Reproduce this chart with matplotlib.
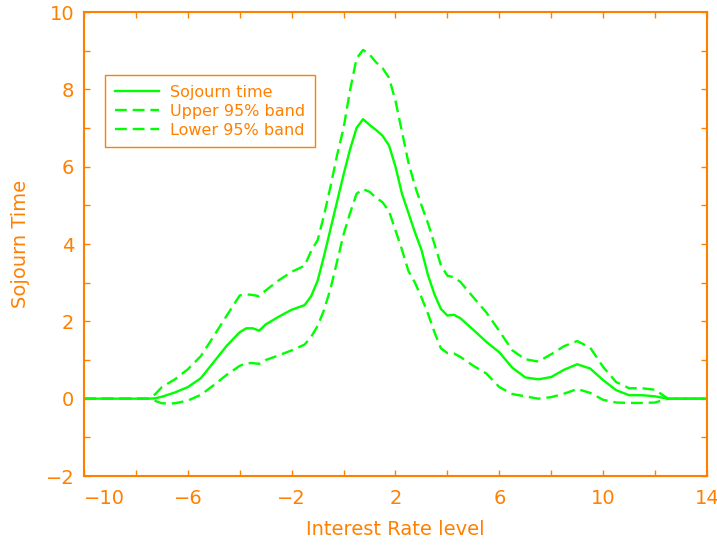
import matplotlib
matplotlib.use("Agg")
import matplotlib.pyplot as plt
from matplotlib.ticker import MultipleLocator

# colori
ARANCIO = "#ff8000"
VERDE = "#00ff00"

# livello del tasso (asse x)
x = [-10, -7.5, -7.25, -7.0, -6.5, -6.0, -5.5, -5.0, -4.5, -4.0, -3.75, -3.5, -3.25,
     -3.0, -2.5, -2.0, -1.5, -1.25, -1.0, -0.75, -0.5, -0.25, 0.0, 0.25, 0.5, 0.75,
     1.0, 1.25, 1.5, 1.75, 2.0, 2.25, 2.5, 2.75, 3.0, 3.25, 3.5, 3.75, 4.0, 4.25,
     4.5, 5.0, 5.5, 6.0, 6.5, 7.0, 7.5, 8.0, 8.5, 9.0, 9.5, 10.0, 10.5, 11.0, 11.5,
     12.0, 12.5, 14]

# tempo di soggiorno stimato
sojourn = [0, 0, 0.01, 0.05, 0.16, 0.30, 0.53, 0.95, 1.37, 1.72, 1.82, 1.82, 1.76,
           1.92, 2.12, 2.30, 2.42, 2.65, 3.05, 3.7, 4.4, 5.1, 5.8, 6.45, 7.0, 7.23,
           7.08, 6.95, 6.8, 6.55, 6.0, 5.3, 4.8, 4.3, 3.85, 3.2, 2.7, 2.32, 2.15, 2.17,
           2.08, 1.78, 1.47, 1.2, 0.8, 0.55, 0.5, 0.56, 0.75, 0.89, 0.78, 0.48, 0.22, 0.09, 0.09,
           0.06, 0.0, 0]

# banda superiore 95%
upper = [0, 0, 0.12, 0.3, 0.5, 0.76, 1.1, 1.62, 2.15, 2.67, 2.7, 2.68, 2.65,
         2.8, 3.06, 3.28, 3.44, 3.82, 4.1, 4.75, 5.5, 6.3, 7.0, 7.98, 8.8, 9.02,
         8.9, 8.7, 8.55, 8.3, 7.7, 6.9, 6.1, 5.5, 5.0, 4.54, 4.0, 3.45, 3.18, 3.14,
         3.02, 2.62, 2.23, 1.75, 1.25, 1.02, 0.96, 1.15, 1.36, 1.49, 1.32, 0.82, 0.43, 0.27, 0.27,
         0.23, 0.0, 0]

# banda inferiore 95%
lower = [0, 0, -0.06, -0.12, -0.12, -0.05, 0.1, 0.35, 0.62, 0.85, 0.92, 0.92, 0.9,
         1.0, 1.12, 1.25, 1.4, 1.6, 1.88, 2.3, 2.85, 3.55, 4.25, 4.8, 5.3, 5.42,
         5.35, 5.2, 5.08, 4.85, 4.35, 3.85, 3.3, 3.0, 2.62, 2.2, 1.72, 1.3, 1.18, 1.17,
         1.08, 0.85, 0.65, 0.3, 0.12, 0.06, 0.0, 0.04, 0.13, 0.25, 0.15, -0.03, -0.1, -0.11, -0.11,
         -0.1, 0.0, 0]

fig = plt.figure(figsize=(7.17, 5.46), dpi=100)
ax = fig.add_axes([0.1172, 0.1282, 0.8688, 0.8498])

ax.plot(x, sojourn, color=VERDE, lw=1.7, label="Sojourn time")
ax.plot(x, upper, color=VERDE, lw=1.7, dashes=(5, 2.5), label="Upper 95% band")
ax.plot(x, lower, color=VERDE, lw=1.7, dashes=(5, 2.5), label="Lower 95% band")

ax.set_xlim(-10, 14)
ax.set_ylim(-2, 10)
ax.xaxis.set_minor_locator(MultipleLocator(2))
ax.yaxis.set_major_locator(MultipleLocator(2))
ax.yaxis.set_minor_locator(MultipleLocator(1))
ax.set_xticks([-10, -6, -2, 2, 6, 10, 14])

# assi e tacche arancioni
for s in ax.spines.values():
    s.set_color(ARANCIO)
    s.set_linewidth(1.5)
ax.tick_params(which="both", direction="in", top=True, right=True,
               color=ARANCIO, labelcolor=ARANCIO, labelsize=14, length=4.5, width=1)
ax.tick_params(axis="x", pad=9)
ax.tick_params(axis="y", pad=7)
ax.get_xticklabels()[0].set_horizontalalignment("left")

ax.set_xlabel("Interest Rate level", color=ARANCIO, fontsize=14, labelpad=9)
ax.set_ylabel("Sojourn Time", color=ARANCIO, fontsize=14, labelpad=11)

leg = ax.legend(loc="upper left", bbox_to_anchor=(0.1464, 0.8626),
                bbox_transform=fig.transFigure, borderaxespad=0,
                fontsize=11.5, handlelength=2.8, handletextpad=0.7,
                labelspacing=0.25, borderpad=0.6, fancybox=False, framealpha=1)
leg.get_frame().set_edgecolor(ARANCIO)
leg.get_frame().set_linewidth(1)
for t in leg.get_texts():
    t.set_color(ARANCIO)

fig.savefig("out.png", dpi=100)
